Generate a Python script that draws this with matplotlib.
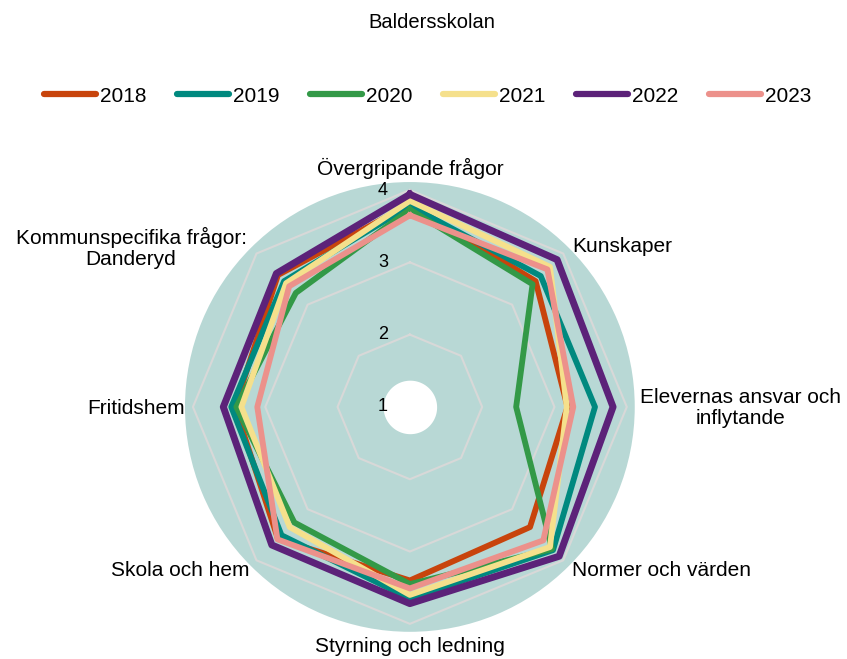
import numpy as np
import matplotlib
matplotlib.use("Agg")
import matplotlib.pyplot as plt
from matplotlib.transforms import offset_copy

plt.rcParams['font.family'] = ['Liberation Sans', 'DejaVu Sans']

# categories, clockwise from the top
categories = ['Övergripande frågor', 'Kunskaper', 'Elevernas ansvar och\ninflytande',
              'Normer och värden', 'Styrning och ledning', 'Skola och hem',
              'Fritidshem', 'Kommunspecifika frågor:\nDanderyd']
years = ['2018', '2019', '2020', '2021', '2022', '2023']

v2018 = [3.80, 3.46, 3.18, 3.35, 3.40, 3.58, 3.42, 3.58]
v2019 = [3.78, 3.56, 3.56, 3.80, 3.65, 3.51, 3.47, 3.46]
v2020 = [3.73, 3.40, 2.47, 3.78, 3.45, 3.26, 3.40, 3.23]
v2021 = [3.85, 3.74, 3.17, 3.74, 3.60, 3.35, 3.33, 3.42]
v2022 = [3.94, 3.88, 3.81, 3.92, 3.72, 3.70, 3.58, 3.61]
v2023 = [3.65, 3.69, 3.26, 3.61, 3.51, 3.59, 3.11, 3.36]
series = [v2018, v2019, v2020, v2021, v2022, v2023]
colors = ['#c8440c', '#00897f', '#339947', '#f5e08c', '#5c2279', '#ec918b']

ticks = [1, 2, 3, 4]

fig = plt.figure(figsize=(8.47, 6.59), dpi=100)
ax = fig.add_axes([0.2184, 0.041, 0.531, 0.683], projection='polar')
ax.set_theta_zero_location('N')
ax.set_theta_direction(-1)
ax.set_facecolor('#b8d8d5')
ax.spines['polar'].set_visible(False)
ax.grid(False)
ax.set_xticks([])
ax.set_yticks([])
ax.set_ylim(1, 4.11)

n = len(categories)
angles = np.linspace(0, 2 * np.pi, n, endpoint=False)
closed = np.append(angles, angles[0])

# octagon gridlines
for t in ticks[1:]:
    ax.plot(closed, [t] * (n + 1), color='#d8d8d8', lw=1.5, zorder=1)

for vals, col, yr in zip(series, colors, years):
    lw = 5 if yr == '2022' else 4.2
    ax.plot(closed, vals + vals[:1], color=col, lw=lw, label=yr, zorder=3)

# white hole in the centre
circ = np.linspace(0, 2 * np.pi, 200)
ax.fill_between(circ, 1, 1.37, color='white', zorder=4, lw=0)

# radial tick labels, left of the vertical axis
tr = offset_copy(ax.transData, fig=fig, x=-27, y=0, units='dots')
for t in ticks:
    ax.text(0, t, str(t), transform=tr, ha='center', va='center', fontsize=13, zorder=5)

# category labels (pixel positions from the top-left of the figure)
W, H = 847, 659
lab_pos = [(410, 168, 'center'), (572, 246, 'left'), (740, 408, 'center'),
           (572, 570, 'left'), (410, 647, 'center'), (249, 570, 'right'),
           (185, 408, 'right'), (131, 248, 'center')]
for lab, (x, y, ha) in zip(categories, lab_pos):
    fig.text(x / W, 1 - y / H, lab, ha=ha, va='center', fontsize=15,
             multialignment='center', linespacing=1.15)

fig.text(0.51, 1 - 22 / H, 'Baldersskolan', ha='center', va='center', fontsize=14.5)

leg = fig.legend(loc='center', bbox_to_anchor=(0.505, 1 - 96 / H), ncol=6, frameon=False,
                 fontsize=15, handlelength=2.5, handletextpad=0.2, columnspacing=1.45)
for h in leg.get_lines():
    h.set_linewidth(4.5)
    h.set_solid_capstyle('round')

fig.savefig('out.png', dpi=100)
